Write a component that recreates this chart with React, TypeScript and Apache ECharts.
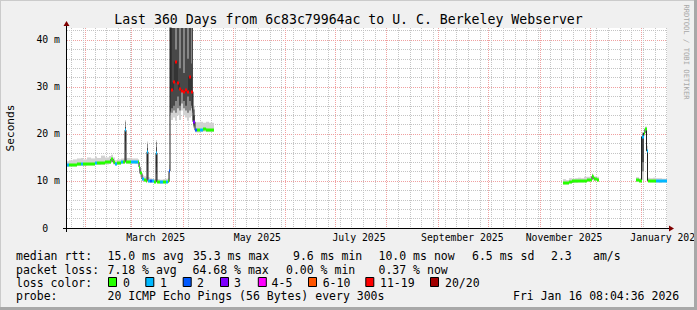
import React, { useEffect, useRef } from "react";
import * as echarts from "echarts";

// ---------- data ----------
const TOTAL_DAYS = 360;
const Y_MAX = 42.55;

// days since the start of the 360-day window (Jan 21 2025 08:04)
const sampleDays = [
  0.0, 1.2, 3.6, 6.0, 8.4, 9.6, 12.0, 14.4, 16.8, 18.0, 20.4, 22.8, 25.2, 26.4, 27.6, 28.8, 30.0, 32.4, 33.6,
  34.8, 35.4, 36.0, 38.4, 40.8, 42.6, 43.2, 43.8, 45.0, 46.2, 47.4, 48.0, 48.6, 49.8, 51.0, 52.2, 53.4, 54.0,
  55.8, 57.6, 59.4, 60.6, 61.2, 61.8, 62.4, 63.6, 64.8, 66.0, 67.2, 68.4, 69.6, 70.8, 72.0, 73.2, 74.4, 75.0,
  75.6, 76.8, 78.0, 79.8, 81.6, 83.4, 85.2, 87.0, 87.9,
  297.6, 299.4, 301.2, 303.0, 304.8, 306.6, 308.4, 310.2, 312.0, 313.8, 315.0, 315.6, 316.2, 318.0, 319.2,
  341.4, 343.2, 344.7, 345.9, 346.8, 347.7, 348.3, 349.8, 351.6, 353.4, 355.2, 357.0, 358.8, 359.7,
];
// median rtt in ms (null = end of a run of data)
const medianMs = [
  13.3, 13.4, 13.5, 13.6, 13.6, 13.6, 13.7, 13.7, 13.8, 13.8, 13.9, 14.0, 14.1, 14.7, 14.0, 13.6, 13.9, 14.0, 14.0,
  20.8, 14.1, 14.1, 14.1, 14.0, 14.0, 13.0, 11.6, 10.4, 10.2, 10.1, 16.2, 10.0, 9.9, 9.9, 9.8, 15.9, 9.7,
  9.7, 9.7, 9.8, 9.9, 12.1, 45.0, 29.4, 31.0, 35.4, 30.8, 29.5, 29.2, 29.0, 29.3, 29.0, 32.2, 29.0, 29.0,
  22.6, 20.8, 20.8, 20.9, 21.0, 20.9, 20.9, 20.9, null,
  9.6, 9.6, 9.8, 9.9, 9.9, 10.0, 10.0, 10.1, 10.2, 10.3, 11.0, 10.8, 10.4, 10.3, null,
  10.2, 10.1, 19.4, 20.2, 21.0, 16.4, 10.1, 10.0, 10.0, 10.1, 10.0, 10.1, 10.1, null,
];
// smoke (spread of the 20 pings), outer light band
const smokeLo = [
  13.0, 13.1, 13.1, 13.2, 13.2, 13.2, 13.3, 13.3, 13.4, 13.4, 13.5, 13.5, 13.6, 14.0, 13.5, 13.3, 13.5, 13.6, 13.6,
  14.5, 13.7, 13.7, 13.7, 13.6, 13.6, 12.0, 10.8, 10.0, 9.9, 9.8, 10.5, 9.7, 9.6, 9.6, 9.6, 10.0, 9.5,
  9.4, 9.5, 9.5, 9.6, 10.0, 24.0, 23.0, 23.5, 22.8, 24.0, 23.0, 25.0, 24.0, 23.5, 22.8, 23.5, 24.0, 23.0,
  21.2, 20.3, 20.3, 20.4, 20.5, 20.4, 20.4, 20.4, null,
  9.3, 9.3, 9.5, 9.6, 9.6, 9.7, 9.7, 9.8, 9.9, 10.0, 10.2, 10.1, 10.0, 10.0, null,
  9.8, 9.8, 10.2, 19.5, 20.2, 15.5, 9.8, 9.7, 9.7, 9.7, 9.6, 9.7, 9.7, null,
];
const smokeHi = [
  14.2, 14.4, 14.6, 14.8, 14.9, 14.6, 15.0, 14.8, 15.2, 14.9, 15.4, 15.0, 15.3, 15.6, 15.0, 14.4, 14.6, 14.8, 14.8,
  23.0, 14.8, 14.9, 14.8, 14.8, 14.6, 14.0, 12.5, 11.2, 11.0, 10.8, 18.4, 10.8, 10.6, 10.5, 10.4, 18.7, 10.4,
  10.3, 10.4, 10.5, 10.6, 13.5, 45.0, 45.0, 45.0, 45.0, 45.0, 45.0, 45.0, 45.0, 45.0, 45.0, 45.0, 45.0, 45.0,
  26.0, 22.5, 22.5, 22.6, 22.4, 22.6, 22.4, 22.4, null,
  10.4, 10.2, 10.6, 10.5, 10.6, 10.7, 10.6, 10.9, 10.9, 11.0, 11.6, 11.4, 11.0, 10.9, null,
  10.8, 10.6, 20.4, 21.2, 21.6, 17.5, 10.7, 10.6, 10.7, 10.6, 10.6, 10.5, 10.5, null,
];
// smoke, medium band
const smokeMidLo = [
  null, null, null, null, null, null, null, null, null, null, null, null, null, null, null, null, null, null, null,
  16.5, null, null, null, null, null, null, null, null, null, null, 12.0, null, null, null, null, 11.5, null,
  null, null, null, null, null, 24.5, 24.5, 25.0, 24.5, 25.5, 25.0, 26.5, 25.5, 25.0, 24.5, 25.0, 25.5, 24.5,
  21.6, null, null, null, null, null, null, null, null,
  null, null, null, null, null, null, null, null, null, null, null, null, null, null, null,
  null, null, 12.0, null, null, null, null, null, null, null, null, null, null, null,
];
const smokeMidHi = [
  null, null, null, null, null, null, null, null, null, null, null, null, null, null, null, null, null, null, null,
  22.6, null, null, null, null, null, null, null, null, null, null, 18.0, null, null, null, null, 18.3, null,
  null, null, null, null, null, 45.0, 45.0, 45.0, 45.0, 45.0, 45.0, 45.0, 45.0, 45.0, 45.0, 45.0, 45.0, 45.0,
  25.2, null, null, null, null, null, null, null, null,
  null, null, null, null, null, null, null, null, null, null, null, null, null, null, null,
  null, null, 20.1, null, null, null, null, null, null, null, null, null, null, null,
];
// smoke, dark inner band
const smokeInLo = [
  null, null, null, null, null, null, null, null, null, null, null, null, null, null, null, null, null, null, null,
  18.5, null, null, null, null, null, null, null, null, null, null, 13.5, null, null, null, null, 13.0, null,
  null, null, null, null, null, 24.8, 25.5, 26.0, 27.0, 28.0, 26.0, 29.0, 27.0, 26.0, 28.0, 27.0, 26.0, 25.0,
  22.0, null, null, null, null, null, null, null, null,
  null, null, null, null, null, null, null, null, null, null, null, null, null, null, null,
  null, null, 14.0, null, null, null, null, null, null, null, null, null, null, null,
];
const smokeInHi = [
  null, null, null, null, null, null, null, null, null, null, null, null, null, null, null, null, null, null, null,
  21.5, null, null, null, null, null, null, null, null, null, null, 17.0, null, null, null, null, 17.2, null,
  null, null, null, null, null, 45.0, 45.0, 45.0, 38.0, 45.0, 34.0, 45.0, 33.0, 45.0, 36.0, 45.0, 35.0, 45.0,
  24.0, null, null, null, null, null, null, null, null,
  null, null, null, null, null, null, null, null, null, null, null, null, null, null, null,
  null, null, 19.6, null, null, null, null, null, null, null, null, null, null, null,
];
// pings lost (of 20)
const lossCount = [
  1, 0, 0, 0, 1, 0, 0, 0, 1, 0, 0, 0, 0, 0, 0, 1, 0, 1, 0,
  1, 0, 0, 1, 1, 0, 0, 0, 1, 0, 0, 1, 1, 2, 1, 0, 1, 0,
  1, 0, 1, 0, 2, 14, 12, 13, 12, 14, 12, 13, 12, 12, 13, 12, 12, 11,
  3, 2, 0, 1, 0, 0, 0, 0, 0,
  0, 0, 0, 0, 0, 0, 0, 0, 0, 0, 0, 0, 0, 0, 0,
  0, 0, 1, 0, 0, 1, 0, 0, 0, 1, 1, 1, 1, 0,
];

// axis / grid
const monthStartDays = [10.66, 38.66, 69.66, 99.66, 130.66, 160.66, 191.66, 222.66, 252.66, 283.66, 313.66, 344.66];
const WEEK_GRID_FIRST = 2.66;
const WEEK_GRID_STEP = 7;
const xLabelDays = [53.2, 114.2, 175.2, 237.2, 298.2, 359.2];
const xLabelNames = ["March 2025", "May 2025", "July 2025", "September 2025", "November 2025", "January 2026"];

// legend
const lossLegendLabels = ["0", "1", "2", "3", "4-5", "6-10", "11-19", "20/20"];
const lossLegendColors = ["#26ff00", "#00b8ff", "#0059ff", "#7e00ff", "#ff00ff", "#ff5500", "#ff0000", "#a10000"];
const lossLegendBoxX = [108, 145.3, 182.7, 220, 257.8, 308, 365.3, 430];
const lossLegendTextX = [123, 160, 197, 234, 271.6, 322.7, 380, 445];

const rttStats = [
  { x: 16, t: "median rtt:" },
  { x: 107.5, t: "15.0 ms avg" },
  { x: 193, t: "35.3 ms max" },
  { x: 293, t: "9.6 ms min" },
  { x: 378.5, t: "10.0 ms now" },
  { x: 472, t: "6.5 ms sd" },
  { x: 551, t: "2.3" },
  { x: 593, t: "am/s" },
];
const lossStats = [
  { x: 16, t: "packet loss:" },
  { x: 107.5, t: "7.18 % avg" },
  { x: 192.5, t: "64.68 % max" },
  { x: 286, t: "0.00 % min" },
  { x: 378.5, t: "0.37 % now" },
];
const probeInfo = [
  { x: 16, t: "probe:" },
  { x: 107.5, t: "20 ICMP Echo Pings (56 Bytes) every 300s" },
  { x: 513, t: "Fri Jan 16 08:04:36 2026" },
];

const TITLE = "Last 360 Days from 6c83c79964ac to U. C. Berkeley Webserver";

// ---------- helpers ----------
const MONO = "'DejaVu Sans Mono', 'Liberation Mono', monospace";

function lossColor(n: number): string {
  if (n <= 0) return lossLegendColors[0];
  if (n === 1) return lossLegendColors[1];
  if (n === 2) return lossLegendColors[2];
  if (n === 3) return lossLegendColors[3];
  if (n <= 5) return lossLegendColors[4];
  if (n <= 10) return lossLegendColors[5];
  if (n <= 19) return lossLegendColors[6];
  return lossLegendColors[7];
}

function buildItems() {
  const outer: number[][] = [];
  const mid: number[][] = [];
  const inner: number[][] = [];
  const bars: number[][] = [];
  for (let i = 0; i < sampleDays.length - 1; i++) {
    const m = medianMs[i];
    if (m == null) continue;
    const d0 = sampleDays[i];
    const d1 = sampleDays[i + 1];
    outer.push([d0, d1, smokeLo[i] as number, smokeHi[i] as number]);
    if (smokeMidLo[i] != null) mid.push([d0, d1, smokeMidLo[i] as number, smokeMidHi[i] as number]);
    if (smokeInLo[i] != null) inner.push([d0, d1, smokeInLo[i] as number, smokeInHi[i] as number]);
    bars.push([d0, d1, m, lossCount[i]]);
  }
  const line = sampleDays.map((d, i) => [d, medianMs[i]]);
  return { outer, mid, inner, bars, line };
}

function weekGridDays(): number[] {
  const out: number[] = [];
  for (let d = WEEK_GRID_FIRST; d < TOTAL_DAYS; d += WEEK_GRID_STEP) out.push(d);
  return out;
}

export default function App() {
  const ref = useRef<HTMLDivElement>(null);

  useEffect(() => {
    document.body.style.margin = "0";
    if (!ref.current) return;
    const chart = echarts.init(ref.current, undefined, { renderer: "svg" });
    const { outer, mid, inner, bars, line } = buildItems();

    const bandRender = (fill: string) => (params: any, api: any) => {
      const p0 = api.coord([api.value(0), Math.min(api.value(2), Y_MAX)]);
      const p1 = api.coord([api.value(1), Math.min(api.value(3), Y_MAX)]);
      const x0 = Math.round(p0[0]);
      const x1 = Math.max(Math.round(p1[0]), x0 + 1);
      return {
        type: "rect",
        shape: { x: x0, y: p1[1], width: x1 - x0, height: Math.max(p0[1] - p1[1], 1) },
        style: { fill },
      };
    };

    const vGridRender = (stroke: string) => (params: any, api: any) => {
      const top = api.coord([api.value(0), Y_MAX]);
      const bot = api.coord([api.value(0), 0]);
      const x = Math.round(top[0]) + 0.5;
      return {
        type: "line",
        shape: { x1: x, y1: top[1], x2: x, y2: bot[1] + 2 },
        style: { stroke, lineWidth: 1, lineDash: [1, 1] },
      };
    };

    const graphics: any[] = [];
    const textEl = (x: number, y: number, t: string, size: number, extra: any = {}) => ({
      type: "text",
      x,
      y,
      z: 50,
      style: {
        text: t,
        fill: "#000000",
        fontFamily: MONO,
        fontSize: size,
        textAlign: "left",
        align: "left",
        textVerticalAlign: "middle",
        verticalAlign: "middle",
        ...extra,
      },
    });

    graphics.push(textEl(348.5, 19, TITLE, 13.2, { textAlign: "center", align: "center" }));
    graphics.push({
      ...textEl(10, 128, "Seconds", 11.2, { textAlign: "center", align: "center" }),
      rotation: Math.PI / 2,
    });
    graphics.push({
      ...textEl(686, 52, "RRDTOOL / TOBI OETIKER", 7.2, { textAlign: "center", align: "center", fill: "#a8a8a8" }),
      rotation: -Math.PI / 2,
    });
    rttStats.forEach((s) => graphics.push(textEl(s.x, 256, s.t, 11.5)));
    lossStats.forEach((s) => graphics.push(textEl(s.x, 269.5, s.t, 11.5)));
    graphics.push(textEl(16, 282.5, "loss color:", 11.5));
    lossLegendLabels.forEach((l, i) => {
      graphics.push({
        type: "rect",
        z: 50,
        shape: { x: lossLegendBoxX[i] + 0.5, y: 277.5, width: 8, height: 9 },
        style: { fill: lossLegendColors[i], stroke: "#000000", lineWidth: 1 },
      });
      graphics.push(textEl(lossLegendTextX[i], 282.5, l, 11.5));
    });
    probeInfo.forEach((s) => graphics.push(textEl(s.x, 296, s.t, 11.5)));

    // axes lines with rrdtool-style arrows
    graphics.push({ type: "line", z: 40, shape: { x1: 63, y1: 228.5, x2: 671, y2: 228.5 }, style: { stroke: "#000", lineWidth: 1 } });
    graphics.push({ type: "line", z: 40, shape: { x1: 66.5, y1: 232, x2: 66.5, y2: 24 }, style: { stroke: "#000", lineWidth: 1 } });
    graphics.push({ type: "polygon", z: 41, shape: { points: [[669, 225.5], [669, 231.5], [674, 228.5]] }, style: { fill: "#7f0000" } });
    graphics.push({ type: "polygon", z: 41, shape: { points: [[63.5, 26], [69.5, 26], [66.5, 21]] }, style: { fill: "#7f0000" } });

    // frame
    graphics.push({ type: "rect", z: 60, shape: { x: 0, y: 0, width: 697, height: 1 }, style: { fill: "#cbcbcb" } });
    graphics.push({ type: "rect", z: 60, shape: { x: 0, y: 0, width: 1, height: 310 }, style: { fill: "#cbcbcb" } });
    graphics.push({ type: "rect", z: 60, shape: { x: 694, y: 0, width: 3, height: 310 }, style: { fill: "#a8a8a8" } });
    graphics.push({ type: "rect", z: 60, shape: { x: 0, y: 307, width: 697, height: 3 }, style: { fill: "#a8a8a8" } });

    chart.setOption({
      animation: false,
      backgroundColor: "#f0f0f0",
      grid: {
        left: 67,
        right: 30,
        top: 28,
        bottom: 82,
        show: true,
        backgroundColor: "#ffffff",
        borderWidth: 0,
        containLabel: false,
        outerBoundsMode: "none",
      },
      xAxis: {
        type: "value",
        min: 0,
        max: TOTAL_DAYS,
        axisLine: { show: false },
        axisTick: { show: false },
        splitLine: { show: false },
        axisLabel: {
          customValues: xLabelDays,
          showMinLabel: true,
          showMaxLabel: true,
          margin: 4,
          color: "#000000",
          fontFamily: MONO,
          fontSize: 9.8,
          formatter: (v: number) => {
            let best = 0;
            xLabelDays.forEach((d, i) => {
              if (Math.abs(d - v) < Math.abs(xLabelDays[best] - v)) best = i;
            });
            return xLabelNames[best];
          },
        },
      },
      yAxis: [
        {
          type: "value",
          min: 0,
          max: Y_MAX,
          interval: 2,
          axisLine: { show: false },
          axisTick: { show: false },
          splitLine: {
            show: true,
            showMinLine: false,
            showMaxLine: false,
            lineStyle: { color: "#c4c4c4", width: 1, type: [1, 1] },
          },
          axisLabel: {
            margin: 7,
            color: "#000000",
            fontFamily: MONO,
            fontSize: 9.8,
            showMaxLabel: false,
            formatter: (v: number) => {
              if (Math.abs(v) < 1e-6) return "0\u00a0\u00a0";
              if (Math.abs(v % 10) < 1e-6) return Math.round(v) + " m";
              return "";
            },
          },
        },
        {
          type: "value",
          min: 0,
          max: Y_MAX,
          interval: 10,
          position: "left",
          axisLine: { show: false },
          axisTick: { show: false },
          axisLabel: { show: false },
          splitLine: {
            show: true,
            showMinLine: false,
            showMaxLine: false,
            lineStyle: { color: "#f0a0a0", width: 1, type: [1, 1] },
          },
        },
      ],
      series: [
        {
          type: "custom",
          name: "weekGrid",
          silent: true,
          z: 1,
          clip: false,
          renderItem: vGridRender("#c4c4c4"),
          encode: { x: 0, y: 1 },
          data: weekGridDays().map((d) => [d, 0]),
        },
        {
          type: "custom",
          name: "monthGrid",
          silent: true,
          z: 1,
          clip: false,
          renderItem: vGridRender("#f0a0a0"),
          encode: { x: 0, y: 1 },
          data: monthStartDays.map((d) => [d, 0]),
        },
        {
          type: "custom",
          name: "smokeOuter",
          silent: true,
          z: 2,
          clip: true,
          renderItem: bandRender("#d2d2d2"),
          encode: { x: [0, 1], y: [2, 3] },
          data: outer,
        },
        {
          type: "custom",
          name: "smokeMid",
          silent: true,
          z: 3,
          clip: true,
          renderItem: bandRender("#868686"),
          encode: { x: [0, 1], y: [2, 3] },
          data: mid,
        },
        {
          type: "custom",
          name: "smokeInner",
          silent: true,
          z: 3,
          clip: true,
          renderItem: bandRender("#484848"),
          encode: { x: [0, 1], y: [2, 3] },
          data: inner,
        },
        {
          type: "line",
          name: "median",
          silent: true,
          z: 4,
          step: "end",
          showSymbol: false,
          connectNulls: false,
          clip: true,
          lineStyle: { color: "#202020", width: 1 },
          data: line,
        },
        {
          type: "custom",
          name: "lossColored",
          silent: true,
          z: 5,
          clip: true,
          renderItem: (params: any, api: any) => {
            const p0 = api.coord([api.value(0), api.value(2)]);
            const p1 = api.coord([api.value(1), api.value(2)]);
            const x0 = Math.round(p0[0]);
            const x1 = Math.max(Math.round(p1[0]), x0 + 1);
            return {
              type: "rect",
              shape: { x: x0, y: Math.round(p0[1]) - 1.5, width: x1 - x0, height: 3 },
              style: { fill: lossColor(api.value(3)) },
            };
          },
          encode: { x: [0, 1], y: 2 },
          data: bars,
        },
      ],
      graphic: { elements: graphics },
    });

    return () => {
      chart.dispose();
    };
  }, []);

  return <div ref={ref} style={{ width: 697, height: 310 }} />;
}
